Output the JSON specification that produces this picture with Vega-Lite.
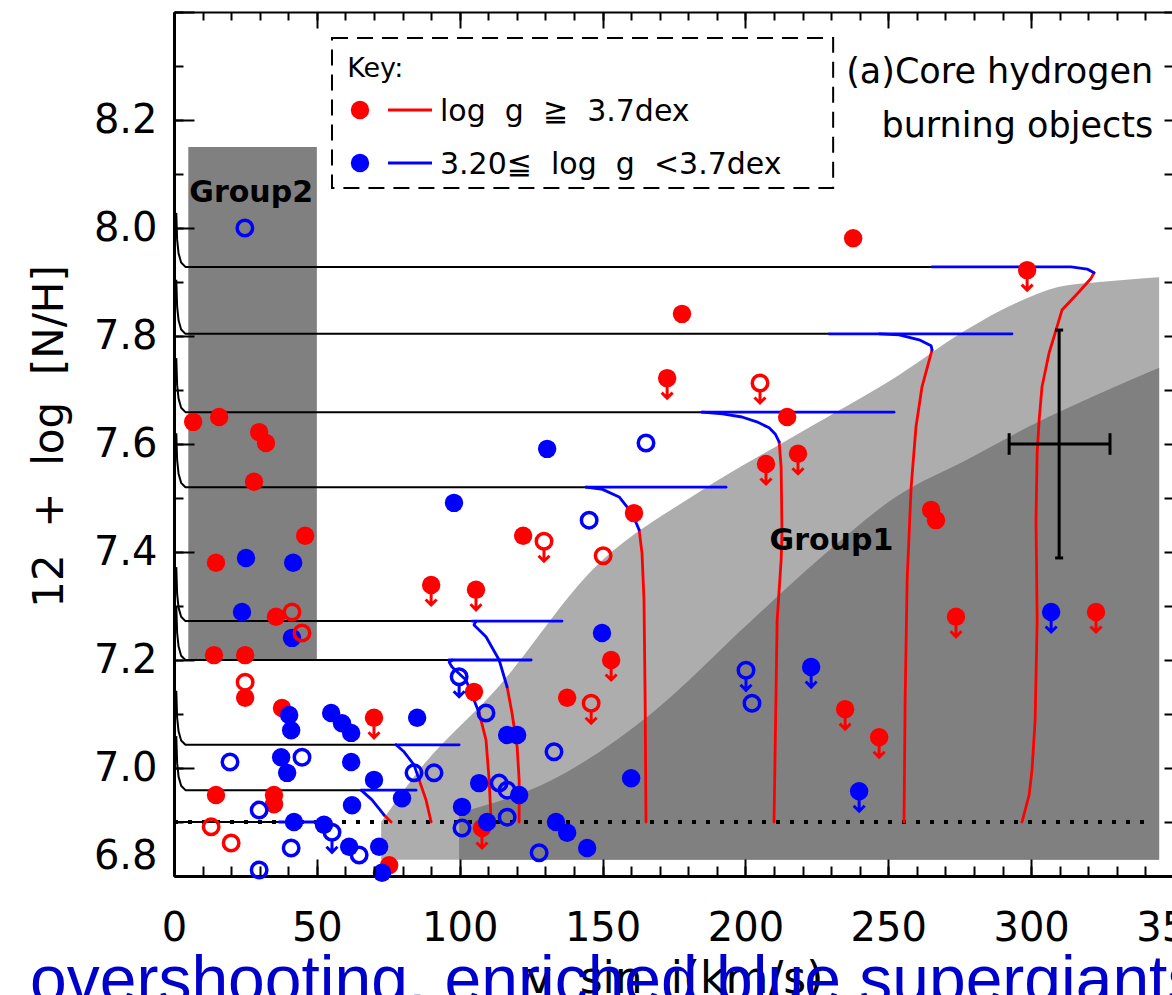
{
"$schema": "https://vega.github.io/schema/vega-lite/v6.json",
"width": 1000, "height": 864,
"autosize": {"type": "none"},
"padding": {"left": 174, "top": 12, "right": -2, "bottom": 119},
"background": "white",
"config": {"view": {"stroke": null}, "font": "DejaVu Sans",
  "axis": {"grid": false, "domainColor": "#000", "tickColor": "#000", "labelColor": "#000", "titleColor": "#000", "labelFont": "DejaVu Sans", "titleFont": "DejaVu Sans", "titleFontWeight": "normal", "tickWidth": 2}},
"datasets": {
  "light": [
    {"v":72.5,"n":6.9,"n2":6.83},{"v":85.8,"n":6.996,"n2":6.83},{"v":113.8,"n":7.152,"n2":6.83},{"v":147.0,"n":7.37,"n2":6.83},{"v":183.8,"n":7.511,"n2":6.83},{"v":218.8,"n":7.62,"n2":6.83},{"v":253.8,"n":7.728,"n2":6.83},{"v":277.2,"n":7.811,"n2":6.83},{"v":294.7,"n":7.861,"n2":6.83},{"v":309.8,"n":7.891,"n2":6.83},{"v":323.8,"n":7.9,"n2":6.83},{"v":344.8,"n":7.909,"n2":6.83}],
  "dark": [
    {"v":99.8,"n":6.917,"n2":6.83},{"v":132.3,"n":6.978,"n2":6.83},{"v":167.3,"n":7.102,"n2":6.83},{"v":201.3,"n":7.269,"n2":6.83},{"v":225.4,"n":7.385,"n2":6.83},{"v":253.8,"n":7.506,"n2":6.83},{"v":277.2,"n":7.57,"n2":6.83},{"v":300.3,"n":7.635,"n2":6.83},{"v":323.8,"n":7.693,"n2":6.83},{"v":344.8,"n":7.741,"n2":6.83}],
  "g2": [{"v":5,"v2":50,"n":7.2,"n2":8.15}],
  "dot": [{"v":0,"n":6.9},{"v":343,"n":6.9}],
  "tracks": [
    {"id":"t1r","g":"high","o":0,"v":296.8,"n":6.9},{"id":"t1r","g":"high","o":1,"v":299.3,"n":6.95},{"id":"t1r","g":"high","o":2,"v":300.3,"n":6.996},{"id":"t1r","g":"high","o":3,"v":301.4,"n":7.089},{"id":"t1r","g":"high","o":4,"v":302.1,"n":7.274},{"id":"t1r","g":"high","o":5,"v":301.7,"n":7.459},{"id":"t1r","g":"high","o":6,"v":302.1,"n":7.583},{"id":"t1r","g":"high","o":7,"v":302.8,"n":7.644},{"id":"t1r","g":"high","o":8,"v":303.8,"n":7.706},{"id":"t1r","g":"high","o":9,"v":306.3,"n":7.769},{"id":"t1r","g":"high","o":10,"v":308.7,"n":7.811},{"id":"t1r","g":"high","o":11,"v":310.8,"n":7.848},{"id":"t1r","g":"high","o":12,"v":316.8,"n":7.882},{"id":"t1r","g":"high","o":13,"v":321.0,"n":7.907},{"id":"t1r","g":"high","o":14,"v":322.0,"n":7.917},
    {"id":"t1b","g":"mid","o":0,"v":322.0,"n":7.917},{"id":"t1b","g":"mid","o":1,"v":319.6,"n":7.924},{"id":"t1b","g":"mid","o":2,"v":314.0,"n":7.928},{"id":"t1b","g":"mid","o":3,"v":265.3,"n":7.928},
    {"id":"t1k","g":"late","o":0,"v":265.3,"n":7.928},{"id":"t1k","g":"late","o":1,"v":4,"n":7.928},{"id":"t1k","g":"late","o":2,"v":2.5,"n":7.936},{"id":"t1k","g":"late","o":3,"v":1.6,"n":7.953},{"id":"t1k","g":"late","o":4,"v":1.1,"n":7.978},{"id":"t1k","g":"late","o":5,"v":0.8,"n":8.028},
    {"id":"t2r","g":"high","o":0,"v":255.5,"n":6.9},{"id":"t2r","g":"high","o":1,"v":255.9,"n":7.126},{"id":"t2r","g":"high","o":2,"v":256.6,"n":7.348},{"id":"t2r","g":"high","o":3,"v":258.0,"n":7.52},{"id":"t2r","g":"high","o":4,"v":259.7,"n":7.632},{"id":"t2r","g":"high","o":5,"v":261.8,"n":7.706},{"id":"t2r","g":"high","o":6,"v":265.3,"n":7.774},
    {"id":"t2h","g":"mid","o":0,"v":265.3,"n":7.774},{"id":"t2h","g":"mid","o":1,"v":265.0,"n":7.782},{"id":"t2h","g":"mid","o":2,"v":260.8,"n":7.793},{"id":"t2h","g":"mid","o":3,"v":253.8,"n":7.802},{"id":"t2h","g":"mid","o":4,"v":246.8,"n":7.804},
    {"id":"t2b","g":"mid","o":0,"v":229.3,"n":7.804},{"id":"t2b","g":"mid","o":1,"v":293.3,"n":7.804},
    {"id":"t2k","g":"late","o":0,"v":229.3,"n":7.804},{"id":"t2k","g":"late","o":1,"v":4,"n":7.804},{"id":"t2k","g":"late","o":2,"v":2.5,"n":7.812},{"id":"t2k","g":"late","o":3,"v":1.6,"n":7.829},{"id":"t2k","g":"late","o":4,"v":1.1,"n":7.854},{"id":"t2k","g":"late","o":5,"v":0.8,"n":7.904},
    {"id":"t3r","g":"high","o":0,"v":210.0,"n":6.9},{"id":"t3r","g":"high","o":1,"v":210.4,"n":7.033},{"id":"t3r","g":"high","o":2,"v":211.1,"n":7.274},{"id":"t3r","g":"high","o":3,"v":212.5,"n":7.385},{"id":"t3r","g":"high","o":4,"v":212.8,"n":7.435},{"id":"t3r","g":"high","o":5,"v":212.5,"n":7.557},{"id":"t3r","g":"high","o":6,"v":211.8,"n":7.604},
    {"id":"t3h","g":"mid","o":0,"v":211.8,"n":7.604},{"id":"t3h","g":"mid","o":1,"v":210.5,"n":7.618},{"id":"t3h","g":"mid","o":2,"v":208.3,"n":7.63},{"id":"t3h","g":"mid","o":3,"v":204.0,"n":7.641},{"id":"t3h","g":"mid","o":4,"v":198.8,"n":7.65},{"id":"t3h","g":"mid","o":5,"v":192.0,"n":7.656},{"id":"t3h","g":"mid","o":6,"v":184.8,"n":7.659},
    {"id":"t3b","g":"mid","o":0,"v":184.8,"n":7.659},{"id":"t3b","g":"mid","o":1,"v":252.0,"n":7.659},
    {"id":"t3k","g":"late","o":0,"v":184.8,"n":7.659},{"id":"t3k","g":"late","o":1,"v":4,"n":7.659},{"id":"t3k","g":"late","o":2,"v":2.5,"n":7.667},{"id":"t3k","g":"late","o":3,"v":1.6,"n":7.684},{"id":"t3k","g":"late","o":4,"v":1.1,"n":7.709},{"id":"t3k","g":"late","o":5,"v":0.8,"n":7.759},
    {"id":"t4r","g":"high","o":0,"v":165.2,"n":6.9},{"id":"t4r","g":"high","o":1,"v":164.9,"n":7.126},{"id":"t4r","g":"high","o":2,"v":164.5,"n":7.311},{"id":"t4r","g":"high","o":3,"v":163.8,"n":7.398},{"id":"t4r","g":"high","o":4,"v":162.8,"n":7.441},
    {"id":"t4h","g":"mid","o":0,"v":162.8,"n":7.441},{"id":"t4h","g":"mid","o":1,"v":160.3,"n":7.472},{"id":"t4h","g":"mid","o":2,"v":155.8,"n":7.502},{"id":"t4h","g":"mid","o":3,"v":150.0,"n":7.516},{"id":"t4h","g":"mid","o":4,"v":144.2,"n":7.52},
    {"id":"t4b","g":"mid","o":0,"v":144.2,"n":7.52},{"id":"t4b","g":"mid","o":1,"v":193.2,"n":7.52},
    {"id":"t4k","g":"late","o":0,"v":144.2,"n":7.52},{"id":"t4k","g":"late","o":1,"v":4,"n":7.52},{"id":"t4k","g":"late","o":2,"v":2.5,"n":7.528},{"id":"t4k","g":"late","o":3,"v":1.6,"n":7.545},{"id":"t4k","g":"late","o":4,"v":1.1,"n":7.57},{"id":"t4k","g":"late","o":5,"v":0.8,"n":7.62},
    {"id":"t5r","g":"high","o":0,"v":120.8,"n":6.9},{"id":"t5r","g":"high","o":1,"v":120.8,"n":6.978},{"id":"t5r","g":"high","o":2,"v":120.1,"n":7.039},{"id":"t5r","g":"high","o":3,"v":118.3,"n":7.102},{"id":"t5r","g":"high","o":4,"v":116.6,"n":7.15},
    {"id":"t5h","g":"mid","o":0,"v":116.6,"n":7.15},{"id":"t5h","g":"mid","o":1,"v":113.8,"n":7.2},{"id":"t5h","g":"mid","o":2,"v":109.2,"n":7.243},{"id":"t5h","g":"mid","o":3,"v":105.0,"n":7.265},{"id":"t5h","g":"mid","o":4,"v":105.7,"n":7.272},
    {"id":"t5b","g":"mid","o":0,"v":104.3,"n":7.272},{"id":"t5b","g":"mid","o":1,"v":135.8,"n":7.272},
    {"id":"t5k","g":"late","o":0,"v":104.3,"n":7.272},{"id":"t5k","g":"late","o":1,"v":4,"n":7.272},{"id":"t5k","g":"late","o":2,"v":2.5,"n":7.28},{"id":"t5k","g":"late","o":3,"v":1.6,"n":7.297},{"id":"t5k","g":"late","o":4,"v":1.1,"n":7.322},{"id":"t5k","g":"late","o":5,"v":0.8,"n":7.372},
    {"id":"t6r","g":"high","o":0,"v":111.0,"n":6.9},{"id":"t6r","g":"high","o":1,"v":110.3,"n":6.978},{"id":"t6r","g":"high","o":2,"v":109.2,"n":7.052},{"id":"t6r","g":"high","o":3,"v":106.8,"n":7.102},
    {"id":"t6h","g":"mid","o":0,"v":106.8,"n":7.102},{"id":"t6h","g":"mid","o":1,"v":102.2,"n":7.163},{"id":"t6h","g":"mid","o":2,"v":97.3,"n":7.187},{"id":"t6h","g":"mid","o":3,"v":96.3,"n":7.196},{"id":"t6h","g":"mid","o":4,"v":97.5,"n":7.2},
    {"id":"t6b","g":"mid","o":0,"v":96.3,"n":7.2},{"id":"t6b","g":"mid","o":1,"v":125.0,"n":7.2},
    {"id":"t6k","g":"late","o":0,"v":96.3,"n":7.2},{"id":"t6k","g":"late","o":1,"v":4,"n":7.2},{"id":"t6k","g":"late","o":2,"v":2.5,"n":7.208},{"id":"t6k","g":"late","o":3,"v":1.6,"n":7.225},{"id":"t6k","g":"late","o":4,"v":1.1,"n":7.25},{"id":"t6k","g":"late","o":5,"v":0.8,"n":7.3},
    {"id":"t7r","g":"high","o":0,"v":90.0,"n":6.9},{"id":"t7r","g":"high","o":1,"v":88.2,"n":6.941},{"id":"t7r","g":"high","o":2,"v":85.8,"n":6.978},
    {"id":"t7h","g":"mid","o":0,"v":85.8,"n":6.978},{"id":"t7h","g":"mid","o":1,"v":84.0,"n":7.006},{"id":"t7h","g":"mid","o":2,"v":80.5,"n":7.03},{"id":"t7h","g":"mid","o":3,"v":77.7,"n":7.043},
    {"id":"t7b","g":"mid","o":0,"v":77.7,"n":7.043},{"id":"t7b","g":"mid","o":1,"v":99.8,"n":7.043},
    {"id":"t7k","g":"late","o":0,"v":77.7,"n":7.043},{"id":"t7k","g":"late","o":1,"v":4,"n":7.043},{"id":"t7k","g":"late","o":2,"v":2.5,"n":7.051},{"id":"t7k","g":"late","o":3,"v":1.6,"n":7.068},{"id":"t7k","g":"late","o":4,"v":1.1,"n":7.093},{"id":"t7k","g":"late","o":5,"v":0.8,"n":7.143},
    {"id":"t8r","g":"high","o":0,"v":76.0,"n":6.9},{"id":"t8r","g":"high","o":1,"v":73.5,"n":6.913},
    {"id":"t8h","g":"mid","o":0,"v":73.5,"n":6.913},{"id":"t8h","g":"mid","o":1,"v":69.3,"n":6.941},{"id":"t8h","g":"mid","o":2,"v":65.5,"n":6.959},
    {"id":"t8b","g":"mid","o":0,"v":65.5,"n":6.959},{"id":"t8b","g":"mid","o":1,"v":84.7,"n":6.959},
    {"id":"t8k","g":"late","o":0,"v":65.5,"n":6.959},{"id":"t8k","g":"late","o":1,"v":4,"n":6.959},{"id":"t8k","g":"late","o":2,"v":2.5,"n":6.967},{"id":"t8k","g":"late","o":3,"v":1.6,"n":6.984},{"id":"t8k","g":"late","o":4,"v":1.1,"n":7.009},{"id":"t8k","g":"late","o":5,"v":0.8,"n":7.059},
    {"id":"t9k","g":"late","o":0,"v":0,"n":6.9},{"id":"t9k","g":"late","o":1,"v":36.8,"n":6.9},
    {"id":"t9b","g":"mid","o":0,"v":36.8,"n":6.9},{"id":"t9b","g":"mid","o":1,"v":53.6,"n":6.9}
  ],
  "err": [
    {"v":309.8,"v2":309.8,"n":7.389,"n2":7.811},
    {"v":292.3,"v2":327.6,"n":7.6,"n2":7.6},
    {"v":292.3,"v2":292.3,"n":7.58,"n2":7.62},
    {"v":327.6,"v2":327.6,"n":7.58,"n2":7.62},
    {"v":308.4,"v2":311.2,"n":7.811,"n2":7.811},
    {"v":308.4,"v2":311.2,"n":7.389,"n2":7.389}
  ],
  "pts": [
    {"v":24.8,"n":8.0,"g":"mid","f":0,"l":0},
    {"v":6.7,"n":7.641,"g":"high","f":1,"l":0},
    {"v":15.8,"n":7.65,"g":"high","f":1,"l":0},
    {"v":29.8,"n":7.622,"g":"high","f":1,"l":0},
    {"v":32.2,"n":7.602,"g":"high","f":1,"l":0},
    {"v":28.0,"n":7.53,"g":"high","f":1,"l":0},
    {"v":45.9,"n":7.43,"g":"high","f":1,"l":0},
    {"v":14.7,"n":7.38,"g":"high","f":1,"l":0},
    {"v":25.2,"n":7.389,"g":"mid","f":1,"l":0},
    {"v":41.7,"n":7.38,"g":"mid","f":1,"l":0},
    {"v":23.8,"n":7.289,"g":"mid","f":1,"l":0},
    {"v":35.7,"n":7.28,"g":"high","f":1,"l":0},
    {"v":41.3,"n":7.289,"g":"high","f":0,"l":0},
    {"v":41.3,"n":7.241,"g":"mid","f":1,"l":0},
    {"v":44.8,"n":7.25,"g":"high","f":0,"l":0},
    {"v":14.0,"n":7.209,"g":"high","f":1,"l":0},
    {"v":24.9,"n":7.209,"g":"high","f":1,"l":0},
    {"v":24.9,"n":7.159,"g":"high","f":0,"l":0},
    {"v":24.9,"n":7.13,"g":"high","f":1,"l":0},
    {"v":37.8,"n":7.111,"g":"high","f":1,"l":0},
    {"v":40.3,"n":7.098,"g":"mid","f":1,"l":0},
    {"v":41.0,"n":7.07,"g":"mid","f":1,"l":0},
    {"v":55.0,"n":7.102,"g":"mid","f":1,"l":0},
    {"v":58.8,"n":7.083,"g":"mid","f":1,"l":0},
    {"v":62.0,"n":7.065,"g":"mid","f":1,"l":0},
    {"v":70.0,"n":7.093,"g":"high","f":1,"l":1},
    {"v":85.1,"n":7.093,"g":"mid","f":1,"l":0},
    {"v":19.6,"n":7.011,"g":"mid","f":0,"l":0},
    {"v":37.5,"n":7.02,"g":"mid","f":1,"l":0},
    {"v":44.8,"n":7.02,"g":"mid","f":0,"l":0},
    {"v":39.6,"n":6.991,"g":"mid","f":1,"l":0},
    {"v":62.0,"n":7.011,"g":"mid","f":1,"l":0},
    {"v":70.0,"n":6.978,"g":"mid","f":1,"l":0},
    {"v":84.0,"n":6.991,"g":"mid","f":0,"l":0},
    {"v":91.0,"n":6.991,"g":"mid","f":0,"l":0},
    {"v":79.8,"n":6.944,"g":"mid","f":1,"l":0},
    {"v":62.3,"n":6.931,"g":"mid","f":1,"l":0},
    {"v":14.7,"n":6.95,"g":"high","f":1,"l":0},
    {"v":35.0,"n":6.95,"g":"high","f":1,"l":0},
    {"v":35.0,"n":6.933,"g":"high","f":1,"l":0},
    {"v":29.8,"n":6.922,"g":"mid","f":0,"l":0},
    {"v":42.0,"n":6.9,"g":"mid","f":1,"l":0},
    {"v":52.5,"n":6.895,"g":"mid","f":1,"l":0},
    {"v":55.3,"n":6.881,"g":"mid","f":0,"l":1},
    {"v":13.0,"n":6.891,"g":"high","f":0,"l":0},
    {"v":20.0,"n":6.861,"g":"high","f":0,"l":0},
    {"v":41.0,"n":6.852,"g":"mid","f":0,"l":0},
    {"v":61.3,"n":6.854,"g":"mid","f":1,"l":0},
    {"v":64.8,"n":6.839,"g":"mid","f":0,"l":0},
    {"v":71.8,"n":6.854,"g":"mid","f":1,"l":0},
    {"v":29.8,"n":6.811,"g":"mid","f":0,"l":0},
    {"v":75.3,"n":6.82,"g":"high","f":1,"l":0},
    {"v":72.8,"n":6.806,"g":"mid","f":1,"l":0},
    {"v":98.0,"n":7.491,"g":"mid","f":1,"l":0},
    {"v":90.0,"n":7.339,"g":"high","f":1,"l":1},
    {"v":105.7,"n":7.33,"g":"high","f":1,"l":1},
    {"v":122.2,"n":7.43,"g":"high","f":1,"l":0},
    {"v":129.5,"n":7.42,"g":"high","f":0,"l":1},
    {"v":130.6,"n":7.591,"g":"mid","f":1,"l":0},
    {"v":145.3,"n":7.459,"g":"mid","f":0,"l":0},
    {"v":150.2,"n":7.393,"g":"high","f":0,"l":0},
    {"v":161.0,"n":7.472,"g":"high","f":1,"l":0},
    {"v":165.2,"n":7.602,"g":"mid","f":0,"l":0},
    {"v":149.8,"n":7.25,"g":"mid","f":1,"l":0},
    {"v":153.0,"n":7.2,"g":"high","f":1,"l":1},
    {"v":137.6,"n":7.13,"g":"high","f":1,"l":0},
    {"v":146.0,"n":7.12,"g":"high","f":0,"l":1},
    {"v":105.0,"n":7.141,"g":"high","f":1,"l":0},
    {"v":99.8,"n":7.169,"g":"mid","f":0,"l":1},
    {"v":109.2,"n":7.102,"g":"mid","f":0,"l":0},
    {"v":116.6,"n":7.061,"g":"mid","f":1,"l":0},
    {"v":120.1,"n":7.061,"g":"mid","f":1,"l":0},
    {"v":133.0,"n":7.03,"g":"mid","f":0,"l":0},
    {"v":106.8,"n":6.972,"g":"mid","f":1,"l":0},
    {"v":113.8,"n":6.972,"g":"mid","f":0,"l":0},
    {"v":116.6,"n":6.959,"g":"mid","f":0,"l":0},
    {"v":120.8,"n":6.95,"g":"mid","f":1,"l":0},
    {"v":100.8,"n":6.928,"g":"mid","f":1,"l":0},
    {"v":116.6,"n":6.909,"g":"mid","f":0,"l":0},
    {"v":100.8,"n":6.889,"g":"mid","f":0,"l":0},
    {"v":107.8,"n":6.889,"g":"high","f":1,"l":1},
    {"v":109.6,"n":6.9,"g":"mid","f":1,"l":0},
    {"v":160.0,"n":6.981,"g":"mid","f":1,"l":0},
    {"v":133.7,"n":6.9,"g":"mid","f":1,"l":0},
    {"v":137.6,"n":6.88,"g":"mid","f":1,"l":0},
    {"v":127.8,"n":6.843,"g":"mid","f":0,"l":0},
    {"v":144.6,"n":6.852,"g":"mid","f":1,"l":0},
    {"v":200.2,"n":7.181,"g":"mid","f":0,"l":1},
    {"v":202.3,"n":7.12,"g":"mid","f":0,"l":0},
    {"v":223.0,"n":7.187,"g":"mid","f":1,"l":1},
    {"v":234.9,"n":7.109,"g":"high","f":1,"l":1},
    {"v":246.8,"n":7.057,"g":"high","f":1,"l":1},
    {"v":239.8,"n":6.957,"g":"mid","f":1,"l":1},
    {"v":273.7,"n":7.28,"g":"high","f":1,"l":1},
    {"v":307.0,"n":7.289,"g":"mid","f":1,"l":1},
    {"v":322.7,"n":7.289,"g":"high","f":1,"l":1},
    {"v":177.8,"n":7.841,"g":"high","f":1,"l":0},
    {"v":172.6,"n":7.722,"g":"high","f":1,"l":1},
    {"v":205.1,"n":7.713,"g":"high","f":0,"l":1},
    {"v":214.6,"n":7.65,"g":"high","f":1,"l":0},
    {"v":218.4,"n":7.582,"g":"high","f":1,"l":1},
    {"v":207.2,"n":7.563,"g":"high","f":1,"l":1},
    {"v":237.7,"n":7.981,"g":"high","f":1,"l":0},
    {"v":298.6,"n":7.922,"g":"high","f":1,"l":1},
    {"v":265.0,"n":7.478,"g":"high","f":1,"l":0},
    {"v":266.7,"n":7.459,"g":"high","f":1,"l":0}
  ],
  "legbox": [{"v":55.3,"v2":230.7,"n":8.074,"n2":8.352}],
  "legline": [{"v":74.9,"v2":90.3,"n":8.2185,"n2":8.2185,"g":"high"},{"v":74.9,"v2":90.3,"n":8.1204,"n2":8.1204,"g":"mid"}],
  "legdot": [{"v":65.1,"n":8.2185,"g":"high"},{"v":65.1,"n":8.1204,"g":"mid"}],
  "grp": [{"v":27.0,"n":8.048,"t":"Group2"},{"v":230.1,"n":7.404,"t":"Group1"}],
  "note": [{"v":342.7,"n":8.268,"t":"(a)Core\u00a0hydrogen"},{"v":342.7,"n":8.169,"t":"burning\u00a0objects"}],
  "key": [{"v":60.6,"n":8.28,"t":"Key:"}],
  "legtxt": [{"v":93.1,"n":8.199,"t":"log\u00a0\u00a0g\u00a0\u00a0\u2267\u00a0\u00a03.7dex"},{"v":93.1,"n":8.1,"t":"3.20\u2266\u00a0\u00a0log\u00a0\u00a0g\u00a0\u00a0<3.7dex"}],
  "banner": [{"v":-50.4,"n":6.567,"t":"overshooting, enriched blue supergiants"}]
},
"encoding": {
  "x": {"field": "v", "type": "quantitative", "scale": {"domain": [0, 350], "nice": false, "zero": false}, "axis": null},
  "y": {"field": "n", "type": "quantitative", "scale": {"domain": [6.8, 8.4], "nice": false, "zero": false}, "axis": null}
},
"resolve": {"axis": {"x": "independent", "y": "independent"}},
"layer": [
  {"data": {"name": "light"}, "mark": {"type": "area", "interpolate": "monotone", "color": "#adadad"},
   "encoding": {
     "x": {"field": "v", "type": "quantitative", "scale": {"domain": [0, 350], "nice": false, "zero": false},
       "axis": {"orient": "bottom", "values": [0,50,100,150,200,250,300,350], "format": "d", "ticks": false, "labels": true, "labelFontSize": 40, "labelPadding": 32, "labelFlush": false, "labelOverlap": false, "domain": true, "domainWidth": 3, "title": "v\u00a0\u00a0sin\u00a0\u00a0i(km/s)", "titleFontSize": 44, "titleX": 500, "titleY": 116, "titleBaseline": "alphabetic", "titleAlign": "center", "zindex": 0}},
     "y": {"field": "n", "type": "quantitative", "scale": {"domain": [6.8, 8.4], "nice": false, "zero": false},
       "axis": {"orient": "left", "values": [6.8,7.0,7.2,7.4,7.6,7.8,8.0,8.2,8.4], "format": ".1f", "labelExpr": "datum.value > 8.3 ? '' : datum.label", "ticks": false, "labels": true, "labelFontSize": 40, "labelPadding": 17, "labelFlush": true, "labelOverlap": false, "domain": true, "domainWidth": 3, "title": "12\u00a0\u00a0+\u00a0\u00a0log\u00a0\u00a0[N/H]", "titleFontSize": 42, "titleAngle": -90, "titleX": -112, "titleY": 424, "titleBaseline": "alphabetic", "titleAlign": "center", "zindex": 0}},
     "y2": {"field": "n2"}}},
  {"data": {"name": "dark"}, "mark": {"type": "area", "interpolate": "monotone", "color": "#808080"},
   "encoding": {
     "x": {"field": "v", "type": "quantitative", "scale": {"domain": [0, 350], "nice": false, "zero": false},
       "axis": {"orient": "bottom", "values": [0,50,100,150,200,250,300,350], "tickSize": -17, "labels": false, "domain": false, "title": null, "zindex": 1}},
     "y": {"field": "n", "type": "quantitative", "scale": {"domain": [6.8, 8.4], "nice": false, "zero": false},
       "axis": {"orient": "left", "values": [6.8,7.0,7.2,7.4,7.6,7.8,8.0,8.2,8.4], "tickSize": -20, "labels": false, "domain": false, "title": null, "zindex": 1}},
     "y2": {"field": "n2"}}},
  {"data": {"name": "g2"}, "mark": {"type": "rect", "color": "#808080"},
   "encoding": {
     "x": {"field": "v", "type": "quantitative", "scale": {"domain": [0, 350], "nice": false, "zero": false},
       "axis": {"orient": "bottom", "values": [0,10,20,30,40,50,60,70,80,90,100,110,120,130,140,150,160,170,180,190,200,210,220,230,240,250,260,270,280,290,300,310,320,330,340,350], "tickSize": -10, "labels": false, "domain": false, "title": null, "zindex": 1}},
     "x2": {"field": "v2"},
     "y": {"field": "n", "type": "quantitative", "scale": {"domain": [6.8, 8.4], "nice": false, "zero": false},
       "axis": {"orient": "left", "values": [6.8,6.9,7.0,7.1,7.2,7.3,7.4,7.5,7.6,7.7,7.8,7.9,8.0,8.1,8.2,8.3,8.4], "tickSize": -9, "labels": false, "domain": false, "title": null, "zindex": 1}},
     "y2": {"field": "n2"}}},
  {"data": {"name": "dot"}, "mark": {"type": "line", "color": "#000", "strokeWidth": 4, "strokeDash": [4, 10]},
   "encoding": {
     "x": {"field": "v", "type": "quantitative", "scale": {"domain": [0, 350], "nice": false, "zero": false},
       "axis": {"orient": "top", "values": [0,50,100,150,200,250,300,350], "tickSize": -16, "labels": false, "domain": true, "domainWidth": 2, "title": null, "zindex": 1}},
     "y": {"field": "n", "type": "quantitative", "scale": {"domain": [6.8, 8.4], "nice": false, "zero": false},
       "axis": {"orient": "right", "values": [6.8,6.9,7.0,7.1,7.2,7.3,7.4,7.5,7.6,7.7,7.8,7.9,8.0,8.1,8.2,8.3,8.4], "tickSize": -10, "labels": false, "domain": true, "domainWidth": 2, "title": null, "zindex": 1}}}},
  {"data": {"name": "tracks"}, "transform": [{"filter": "datum.g === 'late'"}],
   "mark": {"type": "line", "strokeWidth": 2, "strokeJoin": "round"},
   "encoding": {
     "x": {"field": "v", "type": "quantitative", "scale": {"domain": [0, 350], "nice": false, "zero": false},
       "axis": {"orient": "top", "values": [0,10,20,30,40,50,60,70,80,90,100,110,120,130,140,150,160,170,180,190,200,210,220,230,240,250,260,270,280,290,300,310,320,330,340,350], "tickSize": -8, "labels": false, "domain": false, "title": null, "zindex": 1}},
     "color": {"field": "g", "type": "nominal", "scale": {"domain": ["high", "mid", "late"], "range": ["#ff0000", "#0000ff", "#000000"]}, "legend": null},
     "detail": {"field": "id"},
     "order": {"field": "o", "type": "quantitative"}}},
  {"data": {"name": "tracks"}, "transform": [{"filter": "datum.g !== 'late'"}],
   "mark": {"type": "line", "strokeWidth": 2.8, "strokeJoin": "round", "strokeCap": "round"},
   "encoding": {
     "color": {"field": "g", "type": "nominal", "scale": {"domain": ["high", "mid", "late"], "range": ["#ff0000", "#0000ff", "#000000"]}, "legend": null},
     "detail": {"field": "id"},
     "order": {"field": "o", "type": "quantitative"}}},
  {"data": {"name": "err"}, "mark": {"type": "rule", "color": "#000", "strokeWidth": 3},
   "encoding": {"x2": {"field": "v2"}, "y2": {"field": "n2"}}},
  {"data": {"name": "pts"}, "transform": [{"filter": "datum.f === 1"}],
   "mark": {"type": "point", "shape": "circle", "filled": true, "size": 340, "opacity": 1},
   "encoding": {"color": {"field": "g", "type": "nominal", "scale": {"domain": ["high", "mid", "late"], "range": ["#ff0000", "#0000ff", "#000000"]}, "legend": null}}},
  {"data": {"name": "pts"}, "transform": [{"filter": "datum.f === 0"}],
   "mark": {"type": "point", "shape": "circle", "filled": false, "size": 240, "strokeWidth": 3.5, "opacity": 1},
   "encoding": {"color": {"field": "g", "type": "nominal", "scale": {"domain": ["high", "mid", "late"], "range": ["#ff0000", "#0000ff", "#000000"]}, "legend": null}}},
  {"data": {"name": "pts"}, "transform": [{"filter": "datum.l === 1"}],
   "mark": {"type": "point", "shape": "M0,0.85L0,2M-0.55,1.45L0,2L0.55,1.45", "filled": false, "size": 400, "strokeWidth": 3, "opacity": 1},
   "encoding": {"color": {"field": "g", "type": "nominal", "scale": {"domain": ["high", "mid", "late"], "range": ["#ff0000", "#0000ff", "#000000"]}, "legend": null}}},
  {"data": {"name": "legbox"}, "mark": {"type": "rect", "filled": false, "stroke": "#000", "strokeWidth": 2, "strokeDash": [16, 9]},
   "encoding": {"x2": {"field": "v2"}, "y2": {"field": "n2"}}},
  {"data": {"name": "legline"}, "mark": {"type": "rule", "strokeWidth": 3},
   "encoding": {"x2": {"field": "v2"}, "y2": {"field": "n2"},
     "color": {"field": "g", "type": "nominal", "scale": {"domain": ["high", "mid", "late"], "range": ["#ff0000", "#0000ff", "#000000"]}, "legend": null}}},
  {"data": {"name": "legdot"}, "mark": {"type": "point", "shape": "circle", "filled": true, "size": 340, "opacity": 1},
   "encoding": {"color": {"field": "g", "type": "nominal", "scale": {"domain": ["high", "mid", "late"], "range": ["#ff0000", "#0000ff", "#000000"]}, "legend": null}}},
  {"data": {"name": "grp"}, "mark": {"type": "text", "font": "DejaVu Sans", "fontSize": 30, "fontWeight": "bold", "align": "center", "baseline": "alphabetic", "color": "#000"},
   "encoding": {"text": {"field": "t"}}},
  {"data": {"name": "note"}, "mark": {"type": "text", "font": "DejaVu Sans", "fontSize": 35, "align": "right", "baseline": "alphabetic", "color": "#000"},
   "encoding": {"text": {"field": "t"}}},
  {"data": {"name": "key"}, "mark": {"type": "text", "font": "DejaVu Sans", "fontSize": 27, "align": "left", "baseline": "alphabetic", "color": "#000"},
   "encoding": {"text": {"field": "t"}}},
  {"data": {"name": "legtxt"}, "mark": {"type": "text", "font": "DejaVu Sans", "fontSize": 30, "align": "left", "baseline": "alphabetic", "color": "#000"},
   "encoding": {"text": {"field": "t"}}},
  {"data": {"name": "banner"}, "mark": {"type": "text", "font": "Liberation Sans", "fontSize": 66, "align": "left", "baseline": "alphabetic", "color": "#0000cc"},
   "encoding": {"text": {"field": "t"}}}
]
}
